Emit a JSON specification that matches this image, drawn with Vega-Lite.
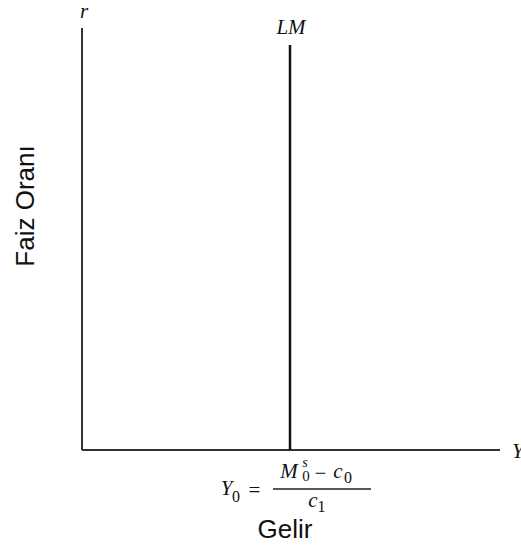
{
  "$schema": "https://vega.github.io/schema/vega-lite/v6.json",
  "width": 418,
  "height": 422,
  "autosize": {"type": "none"},
  "padding": {"left": 82, "top": 28, "right": 21, "bottom": 95},
  "background": "white",
  "config": {"view": {"stroke": null}},
  "datasets": {
    "axes": [
      {"x": 0, "x2": 0, "y": 0, "y2": 10},
      {"x": 0, "x2": 10, "y": 0, "y2": 0}
    ],
    "lm": [{"x": 4.976, "x2": 4.976, "y": 0, "y2": 9.6}],
    "bar": [{"x": 4.569, "x2": 6.914, "y": -0.924, "y2": -0.924}],
    "italicBig": [
      {"x": 0.05, "y": 10.24, "label": "r"},
      {"x": 5.0, "y": 9.85, "label": "LM"},
      {"x": 3.457, "y": -1.066, "label": "Y"},
      {"x": 4.952, "y": -0.664, "label": "M"},
      {"x": 6.124, "y": -0.664, "label": "c"},
      {"x": 5.526, "y": -1.351, "label": "c"}
    ],
    "rightY": [{"x": 10.29, "y": -0.19, "label": "Y"}],
    "regular": [
      {"x": 4.127, "y": -1.114, "label": "=", "size": 21},
      {"x": 5.706, "y": -0.711, "label": "−", "size": 21},
      {"x": 3.684, "y": -1.232, "label": "0", "size": 16},
      {"x": 5.359, "y": -0.735, "label": "0", "size": 15},
      {"x": 6.364, "y": -0.782, "label": "0", "size": 16},
      {"x": 5.730, "y": -1.469, "label": "1", "size": 16}
    ],
    "sup": [{"x": 5.335, "y": -0.40, "label": "s"}],
    "sans": [
      {"x": 4.856, "y": -1.896, "label": "Gelir", "angle": 0},
      {"x": -1.34, "y": 5.782, "label": "Faiz Oranı", "angle": 270}
    ]
  },
  "layer": [
    {
      "data": {"name": "axes"},
      "mark": {"type": "rule", "color": "#333", "strokeWidth": 2},
      "encoding": {
        "x": {"field": "x", "type": "quantitative", "scale": {"domain": [0, 10], "nice": false, "zero": false}, "axis": null},
        "x2": {"field": "x2"},
        "y": {"field": "y", "type": "quantitative", "scale": {"domain": [0, 10], "nice": false, "zero": false}, "axis": null},
        "y2": {"field": "y2"}
      }
    },
    {
      "data": {"name": "lm"},
      "mark": {"type": "rule", "color": "#111", "strokeWidth": 2.5},
      "encoding": {
        "x": {"field": "x", "type": "quantitative"},
        "x2": {"field": "x2"},
        "y": {"field": "y", "type": "quantitative"},
        "y2": {"field": "y2"}
      }
    },
    {
      "data": {"name": "bar"},
      "mark": {"type": "rule", "color": "#222", "strokeWidth": 1.5},
      "encoding": {
        "x": {"field": "x", "type": "quantitative"},
        "x2": {"field": "x2"},
        "y": {"field": "y", "type": "quantitative"},
        "y2": {"field": "y2"}
      }
    },
    {
      "data": {"name": "italicBig"},
      "mark": {"type": "text", "font": "Liberation Serif", "fontStyle": "italic", "fontSize": 21, "align": "center", "baseline": "alphabetic", "color": "#111"},
      "encoding": {
        "x": {"field": "x", "type": "quantitative"},
        "y": {"field": "y", "type": "quantitative"},
        "text": {"field": "label"}
      }
    },
    {
      "data": {"name": "rightY"},
      "mark": {"type": "text", "font": "Liberation Serif", "fontStyle": "italic", "fontSize": 21, "align": "left", "baseline": "alphabetic", "color": "#111"},
      "encoding": {
        "x": {"field": "x", "type": "quantitative"},
        "y": {"field": "y", "type": "quantitative"},
        "text": {"field": "label"}
      }
    },
    {
      "data": {"name": "regular"},
      "mark": {"type": "text", "font": "Liberation Serif", "align": "center", "baseline": "alphabetic", "color": "#111"},
      "encoding": {
        "x": {"field": "x", "type": "quantitative"},
        "y": {"field": "y", "type": "quantitative"},
        "text": {"field": "label"},
        "size": {"field": "size", "type": "quantitative", "scale": null}
      }
    },
    {
      "data": {"name": "sup"},
      "mark": {"type": "text", "font": "Liberation Serif", "fontStyle": "italic", "fontSize": 14, "align": "center", "baseline": "alphabetic", "color": "#111"},
      "encoding": {
        "x": {"field": "x", "type": "quantitative"},
        "y": {"field": "y", "type": "quantitative"},
        "text": {"field": "label"}
      }
    },
    {
      "data": {"name": "sans"},
      "mark": {"type": "text", "font": "Liberation Sans", "fontSize": 26, "align": "center", "baseline": "middle", "color": "#111"},
      "encoding": {
        "x": {"field": "x", "type": "quantitative"},
        "y": {"field": "y", "type": "quantitative"},
        "text": {"field": "label"},
        "angle": {"field": "angle", "type": "quantitative", "scale": null}
      }
    }
  ]
}
